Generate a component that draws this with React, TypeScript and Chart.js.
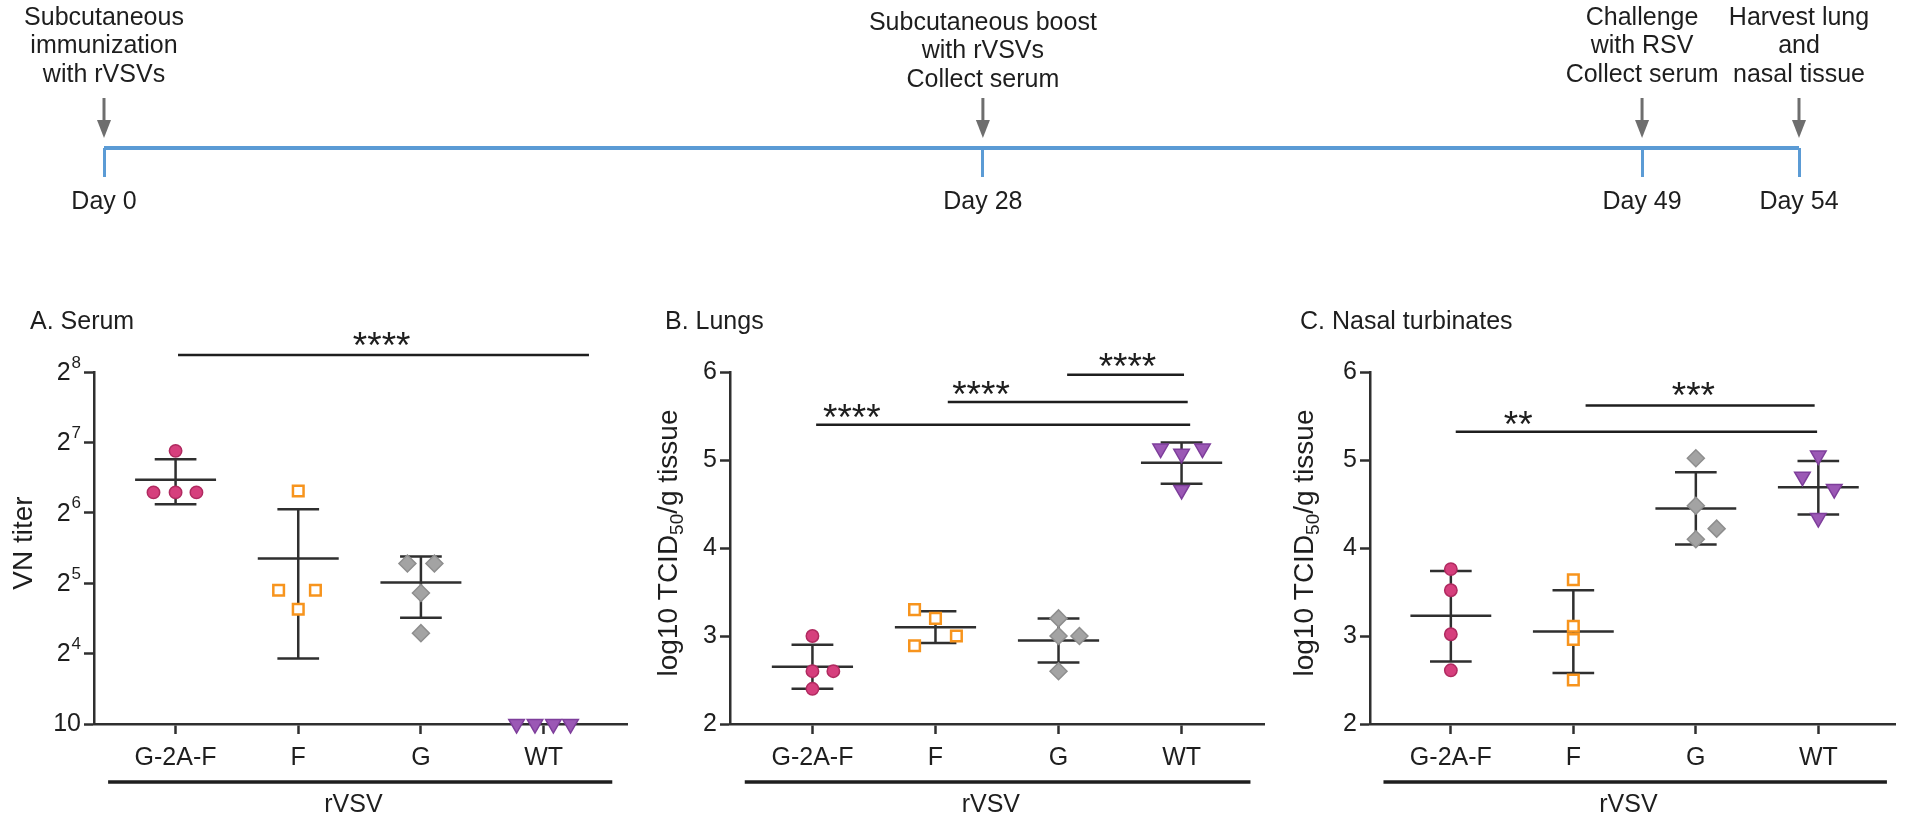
import React, { useEffect, useRef } from 'react';
import { Chart, registerables } from 'chart.js';

Chart.register(...registerables);

const FONT = "'Liberation Sans', Arial, Helvetica, sans-serif";
const INK = '#1e1e1e';
const AXIS_INK = '#2f2f2f';
const ARROW_INK = '#6e6e6e';
const TIMELINE_BLUE = '#5b9bd5';

// ---------------- timeline data ----------------
const TIMELINE_DAYS = [0, 28, 49, 54];
const TIMELINE_LABELS = ['Day 0', 'Day 28', 'Day 49', 'Day 54'];
const TIMELINE_EVENTS = [
  ['Subcutaneous', 'immunization', 'with rVSVs'],
  ['Subcutaneous boost', 'with rVSVs', 'Collect serum'],
  ['Challenge', 'with RSV', 'Collect serum'],
  ['Harvest lung', 'and', 'nasal tissue'],
];

// ---------------- panel data ----------------
const GROUPS = ['G-2A-F', 'F', 'G', 'WT'];
const GROUP_POS = [1, 2, 3, 4];
const AXIS_GROUP_LABEL = 'rVSV';

// A. Serum (log2 VN titer; 3 = "10" detection floor)
const SERUM_VALUES = [
  [6.88, 6.29, 6.29, 6.29],
  [6.31, 4.9, 4.9, 4.63],
  [5.28, 5.28, 4.86, 4.29],
  [3, 3, 3, 3],
];
const SERUM_JITTER = [
  [0, -0.18, 0, 0.17],
  [0, -0.16, 0.14, 0],
  [-0.11, 0.11, 0, 0],
  [-0.22, -0.07, 0.08, 0.22],
];
const SERUM_MEAN = [6.47, 5.35, 5.01, null];
const SERUM_UPPER = [6.76, 6.05, 5.38, null];
const SERUM_LOWER = [6.12, 3.93, 4.51, null];
const SERUM_TICKS = [3, 4, 5, 6, 7, 8];
const SERUM_SIG = [{ from: 1.02, to: 4.37, y: 8.24, text: '****', tx: 2.68, ty: 8.5 }];

// B. Lungs (log10 TCID50/g)
const LUNG_VALUES = [
  [3.0, 2.6, 2.6, 2.4],
  [3.3, 3.2, 3.0, 2.89],
  [3.2, 3.0, 3.0, 2.6],
  [5.13, 5.07, 5.13, 4.66],
];
const LUNG_JITTER = [
  [0, 0, 0.17, 0],
  [-0.17, 0, 0.17, -0.17],
  [0, 0, 0.17, 0],
  [-0.17, 0, 0.17, 0],
];
const LUNG_MEAN = [2.65, 3.1, 2.95, 4.97];
const LUNG_UPPER = [2.9, 3.28, 3.2, 5.2];
const LUNG_LOWER = [2.4, 2.92, 2.7, 4.73];
const LUNG_SIG = [
  { from: 1.03, to: 4.07, y: 5.4, text: '****', tx: 1.32, ty: 5.58 },
  { from: 2.1, to: 4.05, y: 5.66, text: '****', tx: 2.37, ty: 5.85 },
  { from: 3.07, to: 4.02, y: 5.97, text: '****', tx: 3.56, ty: 6.16 },
];

// C. Nasal turbinates (log10 TCID50/g)
const NASAL_VALUES = [
  [3.76, 3.52, 3.02, 2.61],
  [3.64, 3.11, 2.96, 2.5],
  [5.02, 4.48, 4.22, 4.1],
  [5.05, 4.81, 4.67, 4.34],
];
const NASAL_JITTER = [
  [0, 0, 0, 0],
  [0, 0, 0, 0],
  [0, 0, 0.17, 0],
  [0, -0.13, 0.13, 0],
];
const NASAL_MEAN = [3.23, 3.05, 4.45, 4.69];
const NASAL_UPPER = [3.74, 3.52, 4.86, 4.99];
const NASAL_LOWER = [2.71, 2.58, 4.04, 4.38];
const NASAL_SIG = [
  { from: 1.04, to: 3.99, y: 5.32, text: '**', tx: 1.55, ty: 5.51 },
  { from: 2.1, to: 3.97, y: 5.62, text: '***', tx: 2.98, ty: 5.83 },
];

// ---------------- styles ----------------
const MARKERS = [
  { style: 'circle', radius: 6.2, bg: '#d63f7d', border: '#b02a60', bw: 1.5, rotation: 0 },
  { style: 'rect', radius: 7.5, bg: '#ffffff', border: '#f7941d', bw: 2.5, rotation: 0 },
  { style: 'rectRot', radius: 8.5, bg: '#a3a3a3', border: '#8e8e8e', bw: 1.5, rotation: 0 },
  { style: 'triangle', radius: 9, bg: '#9b58b5', border: '#7e3e9b', bw: 1.5, rotation: 180 },
];

const PANEL_TOP = 270; // page y of panel canvases
const PANEL_H = 553;
const AXIS_TOP = 372;
const AXIS_BOTTOM = 724;

function makeTimeline(canvas: HTMLCanvasElement) {
  const notes = {
    id: 'timelineNotes',
    afterDraw(chart: any) {
      const ctx = chart.ctx;
      const xs = chart.scales.x;
      const bottom = chart.chartArea.bottom;
      ctx.save();
      TIMELINE_DAYS.forEach((d, i) => {
        const px = xs.getPixelForValue(d);
        ctx.strokeStyle = ARROW_INK;
        ctx.lineWidth = 3;
        ctx.beginPath();
        ctx.moveTo(px, bottom - 50);
        ctx.lineTo(px, bottom - 26);
        ctx.stroke();
        ctx.fillStyle = ARROW_INK;
        ctx.beginPath();
        ctx.moveTo(px - 7, bottom - 28);
        ctx.lineTo(px + 7, bottom - 28);
        ctx.lineTo(px, bottom - 10);
        ctx.closePath();
        ctx.fill();
        ctx.fillStyle = INK;
        ctx.font = `25px ${FONT}`;
        ctx.textAlign = 'center';
        ctx.textBaseline = 'middle';
        const shift = i === 1 ? 5 : 0;
        TIMELINE_EVENTS[i].forEach((t, k) => ctx.fillText(t, px, 18 + shift + k * 28.5));
      });
      ctx.restore();
    },
  };
  return new Chart(canvas, {
    type: 'scatter',
    data: {
      datasets: [
        {
          data: [
            { x: TIMELINE_DAYS[0], y: 0 },
            { x: TIMELINE_DAYS[TIMELINE_DAYS.length - 1], y: 0 },
          ],
          showLine: true,
          borderColor: TIMELINE_BLUE,
          borderWidth: 4,
          pointRadius: 0,
          clip: false,
        } as any,
      ],
    },
    options: {
      animation: false,
      responsive: false,
      events: [],
      layout: { padding: { left: 104, right: 107, top: 90, bottom: 0 } },
      plugins: { legend: { display: false }, tooltip: { enabled: false } },
      scales: {
        x: {
          type: 'linear',
          min: 0,
          max: 54,
          afterBuildTicks: (s: any) => {
            s.ticks = TIMELINE_DAYS.map((v) => ({ value: v }));
          },
          ticks: {
            callback: (v: any) => TIMELINE_LABELS[TIMELINE_DAYS.indexOf(Number(v))] ?? '',
            font: { family: FONT, size: 25 },
            color: INK,
            padding: 10,
            autoSkip: false,
            maxRotation: 0,
          },
          grid: { drawOnChartArea: false, drawTicks: true, tickLength: 29, tickWidth: 3, tickColor: TIMELINE_BLUE },
          border: { display: false },
          afterFit: (s: any) => {
            s.height = 92;
          },
        },
        y: { display: false, min: 0, max: 1 },
      },
    } as any,
    plugins: [notes],
  });
}

interface PanelCfg {
  left: number;
  width: number;
  axisX: number;
  axisRight: number;
  xMin: number;
  xMax: number;
  yMin: number;
  yMax: number;
  title: string;
  titleX: number;
  yTitleX: number;
  yTitle: { text: string; sub: boolean }[];
  values: number[][];
  jitter: number[][];
  mean: (number | null)[];
  upper: (number | null)[];
  lower: (number | null)[];
  sig: { from: number; to: number; y: number; text: string; tx: number; ty: number }[];
  log2Ticks?: number[];
}

function makePanel(canvas: HTMLCanvasElement, cfg: PanelCfg) {
  const top = AXIS_TOP - PANEL_TOP;
  const bottomH = PANEL_H - (AXIS_BOTTOM - PANEL_TOP);
  const leftW = cfg.axisX - cfg.left;
  const rightPad = cfg.width - (cfg.axisRight - cfg.left);

  const datasets = GROUPS.map((g, gi) => ({
    label: g,
    data: cfg.values[gi].map((v, k) => ({ x: GROUP_POS[gi] + cfg.jitter[gi][k], y: v })),
    pointStyle: MARKERS[gi].style,
    pointRadius: MARKERS[gi].radius,
    pointBackgroundColor: MARKERS[gi].bg,
    pointBorderColor: MARKERS[gi].border,
    pointBorderWidth: MARKERS[gi].bw,
    pointRotation: MARKERS[gi].rotation,
    showLine: false,
    clip: false,
  }));

  const deco = {
    id: 'panelDeco',
    beforeDatasetsDraw(chart: any) {
      const ctx = chart.ctx;
      const xs = chart.scales.x;
      const ys = chart.scales.y;
      ctx.save();
      ctx.strokeStyle = AXIS_INK;
      ctx.lineWidth = 2.5;
      GROUP_POS.forEach((gx, gi) => {
        const m = cfg.mean[gi];
        const up = cfg.upper[gi];
        const lo = cfg.lower[gi];
        if (m == null || up == null || lo == null) return;
        const cx = xs.getPixelForValue(gx);
        const yu = ys.getPixelForValue(up);
        const yl = ys.getPixelForValue(lo);
        const ym = ys.getPixelForValue(m);
        const mw = xs.getPixelForValue(gx + 0.33) - cx;
        const ww = xs.getPixelForValue(gx + 0.17) - cx;
        ctx.beginPath();
        ctx.moveTo(cx, yu);
        ctx.lineTo(cx, yl);
        ctx.moveTo(cx - ww, yu);
        ctx.lineTo(cx + ww, yu);
        ctx.moveTo(cx - ww, yl);
        ctx.lineTo(cx + ww, yl);
        ctx.moveTo(cx - mw, ym);
        ctx.lineTo(cx + mw, ym);
        ctx.stroke();
      });
      ctx.restore();
    },
    afterDraw(chart: any) {
      const ctx = chart.ctx;
      const xs = chart.scales.x;
      const ys = chart.scales.y;
      const area = chart.chartArea;
      ctx.save();
      ctx.fillStyle = INK;
      // panel title
      ctx.font = `25px ${FONT}`;
      ctx.textAlign = 'left';
      ctx.textBaseline = 'middle';
      ctx.fillText(cfg.title, cfg.titleX - cfg.left, 52);

      // y title (rotated, with optional subscript)
      ctx.save();
      ctx.translate(cfg.yTitleX - cfg.left, (area.top + area.bottom) / 2 - 5);
      ctx.rotate(-Math.PI / 2);
      ctx.textAlign = 'left';
      ctx.textBaseline = 'alphabetic';
      let total = 0;
      cfg.yTitle.forEach((p) => {
        ctx.font = `${p.sub ? 19 : 28}px ${FONT}`;
        total += ctx.measureText(p.text).width;
      });
      let x0 = -total / 2;
      cfg.yTitle.forEach((p) => {
        ctx.font = `${p.sub ? 19 : 28}px ${FONT}`;
        ctx.fillText(p.text, x0, p.sub ? 16 : 10);
        x0 += ctx.measureText(p.text).width;
      });
      ctx.restore();

      // log2 tick labels
      if (cfg.log2Ticks) {
        const right = area.left - 13;
        ctx.textBaseline = 'middle';
        ctx.textAlign = 'right';
        cfg.log2Ticks.forEach((v, i) => {
          const py = ys.getPixelForValue(v);
          if (i === 0) {
            ctx.font = `25px ${FONT}`;
            ctx.fillText('10', right, py);
          } else {
            ctx.font = `17px ${FONT}`;
            const sup = String(v);
            const sw = ctx.measureText(sup).width;
            ctx.fillText(sup, right, py - 9);
            ctx.font = `25px ${FONT}`;
            ctx.fillText('2', right - sw - 1, py + 1);
          }
        });
      }

      // significance bars
      ctx.strokeStyle = INK;
      ctx.lineWidth = 2.5;
      cfg.sig.forEach((s) => {
        const py = ys.getPixelForValue(s.y);
        ctx.beginPath();
        ctx.moveTo(xs.getPixelForValue(s.from), py);
        ctx.lineTo(xs.getPixelForValue(s.to), py);
        ctx.stroke();
        ctx.font = `37px ${FONT}`;
        ctx.textAlign = 'center';
        ctx.textBaseline = 'alphabetic';
        ctx.fillText(s.text, xs.getPixelForValue(s.tx), ys.getPixelForValue(s.ty) + 0.58 * 37);
      });

      // group bracket (rVSV)
      const by = area.bottom + 58;
      ctx.lineWidth = 3.5;
      ctx.beginPath();
      ctx.moveTo(xs.getPixelForValue(0.45), by);
      ctx.lineTo(xs.getPixelForValue(4.56), by);
      ctx.stroke();
      ctx.font = `25px ${FONT}`;
      ctx.textAlign = 'center';
      ctx.textBaseline = 'middle';
      ctx.fillText(AXIS_GROUP_LABEL, xs.getPixelForValue(2.45), area.bottom + 81);
      ctx.restore();
    },
  };

  const tickFont = { family: FONT, size: 25 };
  return new Chart(canvas, {
    type: 'scatter',
    data: { datasets: datasets as any },
    options: {
      animation: false,
      responsive: false,
      events: [],
      layout: { padding: { left: 0, right: rightPad, top, bottom: 0 } },
      plugins: { legend: { display: false }, tooltip: { enabled: false } },
      scales: {
        x: {
          type: 'linear',
          min: cfg.xMin,
          max: cfg.xMax,
          afterBuildTicks: (s: any) => {
            s.ticks = GROUP_POS.map((v) => ({ value: v }));
          },
          ticks: {
            callback: (v: any) => GROUPS[GROUP_POS.indexOf(Number(v))] ?? '',
            font: tickFont,
            color: INK,
            padding: 9,
            autoSkip: false,
            maxRotation: 0,
          },
          grid: { drawOnChartArea: false, drawTicks: true, tickLength: 10, tickWidth: 2.5, tickColor: AXIS_INK },
          border: { color: AXIS_INK, width: 2.5 },
          afterFit: (s: any) => {
            s.height = bottomH;
          },
        },
        y: {
          type: 'linear',
          min: cfg.yMin,
          max: cfg.yMax,
          ticks: {
            stepSize: 1,
            font: tickFont,
            color: cfg.log2Ticks ? 'rgba(0,0,0,0)' : INK,
            padding: 3,
          },
          grid: { drawOnChartArea: false, drawTicks: true, tickLength: 10, tickWidth: 2.5, tickColor: AXIS_INK },
          border: { color: AXIS_INK, width: 2.5 },
          afterFit: (s: any) => {
            s.width = leftW;
          },
        },
      },
    } as any,
    plugins: [deco],
  });
}

const TCID_TITLE = [
  { text: 'log10 TCID', sub: false },
  { text: '50', sub: true },
  { text: '/g tissue', sub: false },
];

const PANELS: PanelCfg[] = [
  {
    left: 0, width: 650, axisX: 94, axisRight: 627, xMin: 0.335, xMax: 4.68, yMin: 3, yMax: 8,
    title: 'A. Serum', titleX: 30, yTitleX: 22,
    yTitle: [{ text: 'VN titer', sub: false }],
    values: SERUM_VALUES, jitter: SERUM_JITTER, mean: SERUM_MEAN, upper: SERUM_UPPER, lower: SERUM_LOWER,
    sig: SERUM_SIG, log2Ticks: SERUM_TICKS,
  },
  {
    left: 640, width: 640, axisX: 730, axisRight: 1264, xMin: 0.33, xMax: 4.67, yMin: 2, yMax: 6,
    title: 'B. Lungs', titleX: 665, yTitleX: 667,
    yTitle: TCID_TITLE,
    values: LUNG_VALUES, jitter: LUNG_JITTER, mean: LUNG_MEAN, upper: LUNG_UPPER, lower: LUNG_LOWER,
    sig: LUNG_SIG,
  },
  {
    left: 1280, width: 626, axisX: 1370, axisRight: 1900, xMin: 0.34, xMax: 4.63, yMin: 2, yMax: 6,
    title: 'C. Nasal turbinates', titleX: 1300, yTitleX: 1303,
    yTitle: TCID_TITLE,
    values: NASAL_VALUES, jitter: NASAL_JITTER, mean: NASAL_MEAN, upper: NASAL_UPPER, lower: NASAL_LOWER,
    sig: NASAL_SIG,
  },
];

export default function App() {
  const tRef = useRef<HTMLCanvasElement>(null);
  const aRef = useRef<HTMLCanvasElement>(null);
  const bRef = useRef<HTMLCanvasElement>(null);
  const cRef = useRef<HTMLCanvasElement>(null);

  useEffect(() => {
    const charts: Chart[] = [];
    if (tRef.current) charts.push(makeTimeline(tRef.current));
    [aRef, bRef, cRef].forEach((r, i) => {
      if (r.current) charts.push(makePanel(r.current, PANELS[i]));
    });
    return () => charts.forEach((c) => c.destroy());
  }, []);

  const refs = [aRef, bRef, cRef];
  return (
    <div style={{ position: 'absolute', left: 0, top: 0, width: 1906, height: 823, background: '#ffffff', overflow: 'hidden' }}>
      <canvas ref={tRef} width={1906} height={240} style={{ position: 'absolute', left: 0, top: 0 }} />
      {PANELS.map((p, i) => (
        <canvas
          key={p.title}
          ref={refs[i]}
          width={p.width}
          height={PANEL_H}
          style={{ position: 'absolute', left: p.left, top: PANEL_TOP }}
        />
      ))}
    </div>
  );
}
